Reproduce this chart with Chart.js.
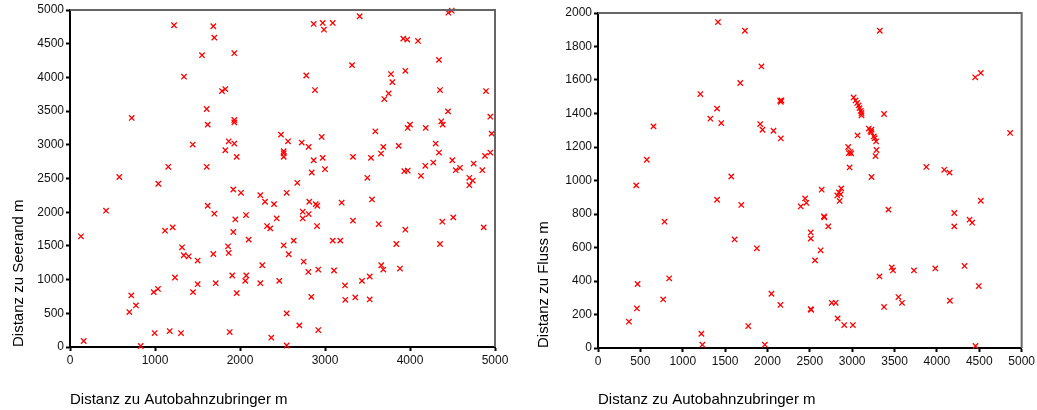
<!DOCTYPE html>
<html>
<head>
<meta charset="utf-8">
<script src="https://cdn.jsdelivr.net/npm/chart.js@4"></script>
<style>
  html, body { margin: 0; background: #fff; }
  .box { position: absolute; top: 0; height: 410px; }
  #left { left: 0; width: 518px; }
  #right { left: 520px; width: 517px; }
</style>
</head>
<body>
<div class="box" id="left"><canvas id="chart-see"></canvas></div>
<div class="box" id="right"><canvas id="chart-fluss"></canvas></div>
<script>
// Zwei Streudiagramme: Distanz zum Autobahnzubringer gegen Seerand bzw. Fluss (Meter).

const autobahnSee = [
  1224, 1686, 1698, 1553, 1933, 1341, 1788, 1827, 1608, 726, 1620, 1933, 1933, 2482, 2565, 1444,
  1867, 1933, 1827, 1961, 2514, 2514, 2514, 1156, 1608, 580, 2867, 2973, 3091, 2988, 3408, 4451,
  4491, 3921, 3968, 4094, 4341, 3318, 2780, 3776, 3945, 3792, 2882, 3749, 3698, 4353, 4894, 4447,
  4945, 4368, 4385, 4000, 3973, 4185, 3592, 2961, 4961, 2726, 2808, 3686, 3867, 4302, 3659, 4341,
  4945, 4882, 2867, 2973, 3329, 3541, 4274, 4498, 4180, 2844, 3000, 3933, 3973, 4129, 4538, 4588,
  4749, 4851, 3498, 4698, 4738, 4698, 1039, 424, 129, 161, 1118, 1208, 1318, 1338, 1396, 1502,
  1235, 1035, 985, 721, 776, 698, 832, 996, 1173, 1306, 1447, 1502, 1620, 1698, 1921, 2012,
  1921, 1945, 2071, 1859, 1867, 1686, 1909, 1714, 1961, 2062, 2074, 2102, 1879, 2239, 2294, 2400,
  2432, 2318, 2356, 2514, 2573, 2262, 2239, 2462, 2549, 2549, 2368, 2549, 2674, 2815, 2891, 2909,
  3196, 3553, 2738, 2808, 2738, 2906, 3329, 3632, 3945, 4380, 4509, 4867, 2632, 3091, 3180, 3839,
  4353, 2749, 2804, 2921, 3106, 3662, 3686, 3882, 3235, 3435, 3526, 2839, 3239, 3356, 3526, 2698,
  2921
];
const seerand = [
  4774, 4759, 4590, 4330, 4359, 4010, 3797, 3827, 3531, 3398, 3299, 3368, 3333, 3151, 3052, 3003,
  3052, 3018, 2919, 2821, 2904, 2874, 2821, 2673, 2673, 2522, 4793, 4808, 4808, 4708, 4907, 4960,
  4990, 4575, 4561, 4541, 4260, 4182, 4028, 4049, 4098, 3930, 3812, 3762, 3679, 3812, 3797, 3496,
  3417, 3348, 3299, 3299, 3250, 3250, 3200, 3117, 3166, 3033, 2969, 2969, 2984, 3018, 2870, 2885,
  2885, 2836, 2771, 2806, 2821, 2806, 2737, 2771, 2688, 2589, 2638, 2608, 2618, 2540, 2623, 2658,
  2722, 2623, 2510, 2510, 2470, 2401, 2422, 2022, 1642, 89, 1726, 1775, 1479, 1361, 1346, 1283,
  1031, 862, 814, 765, 617, 518, 15, 207, 237, 207, 814, 932, 2096, 1978, 2337, 2288,
  1706, 1893, 1957, 1494, 1395, 1380, 1061, 947, 799, 981, 1061, 1593, 222, 2253, 2155, 2120,
  1908, 1794, 1760, 1509, 1376, 1213, 947, 981, 2288, 499, 138, 22, 2436, 2155, 2120, 2096,
  2141, 2189, 2007, 1972, 1908, 1794, 1874, 1824, 1741, 1859, 1923, 1775, 1578, 1578, 1578, 1528,
  1528, 1268, 1114, 1149, 1135, 1213, 1149, 1164, 913, 981, 1046, 744, 700, 735, 706, 321,
  251
];

const autobahnFluss = [
  1416, 1734, 1929, 1679, 1208, 1405, 1326, 1455, 655, 1914, 1941, 2071, 2150, 2165, 2158, 2158,
  576, 1573, 3326, 4452, 4518, 3017, 3040, 3059, 3076, 3087, 3102, 3110, 3110, 3376, 3063, 3196,
  3216, 3224, 3228, 3255, 3266, 3282, 2953, 2976, 2961, 2988, 3287, 3275, 2969, 3875, 4087, 4149,
  4864, 3228, 451, 1405, 1691, 785, 1612, 1875, 840, 467, 769, 459, 365, 2047, 2153, 1773,
  1220, 1232, 1969, 4518, 2640, 2871, 2844, 2864, 2824, 2852, 2444, 2459, 2393, 3428, 4205, 4385,
  4416, 4205, 2667, 2671, 2718, 2511, 2511, 2628, 2561, 3467, 3482, 3729, 3981, 4326, 3322, 4494,
  2511, 2515, 2758, 2805, 2828, 2906, 3008, 3376, 3546, 3588, 4153, 4455
];
const fluss = [
  1946, 1894, 1681, 1582, 1516, 1429, 1369, 1343, 1323, 1337, 1303, 1297, 1476, 1478, 1470, 1251,
  1124, 1024, 1894, 1616, 1642, 1496, 1478, 1463, 1448, 1432, 1416, 1403, 1389, 1397, 1269, 1310,
  1296, 1288, 1304, 1263, 1253, 1233, 1200, 1170, 1164, 1162, 1182, 1146, 1078, 1081, 1064, 1047,
  1284, 1021, 971, 885, 854, 754, 648, 595, 416, 382, 290, 236, 157, 324, 257, 131,
  85, 20, 20, 879, 945, 953, 929, 917, 911, 878, 893, 867, 845, 826, 806, 766,
  748, 726, 786, 780, 726, 690, 653, 583, 523, 481, 463, 463, 475, 490, 427, 370,
  232, 228, 270, 270, 177, 137, 137, 245, 304, 270, 282, 12
];

const X_TITLE = "Distanz zu Autobahnzubringer m";
const FONT = "'Liberation Sans', Arial, sans-serif";

Chart.defaults.font.family = FONT;
Chart.defaults.color = "#000";

// graue Rahmenlinie oben und rechts
const frame = {
  id: "frame",
  afterDatasetsDraw(chart) {
    const { ctx, chartArea: a } = chart;
    ctx.save();
    ctx.strokeStyle = "#666";
    ctx.lineWidth = 2;
    ctx.beginPath();
    ctx.moveTo(a.left, a.top);
    ctx.lineTo(a.right, a.top);
    ctx.lineTo(a.right, a.bottom);
    ctx.stroke();
    ctx.restore();
  },
};

// Zahlen ohne Tausendertrennzeichen
const plain = (v) => String(v);

function axis(extra) {
  return Object.assign({
    type: "linear",
    grid: { drawOnChartArea: false, color: "#000", tickLength: 4, tickWidth: 2 },
    border: { color: "#000", width: 2 },
  }, extra);
}

function scatter(id, xs, ys, o) {
  new Chart(document.getElementById(id), {
    type: "scatter",
    data: {
      datasets: [{
        data: xs.map((x, i) => ({ x, y: ys[i] })),
        pointStyle: "crossRot",
        pointRadius: 3.8,
        borderColor: "#ff0000",
        borderWidth: 1.3,
        clip: false,
      }],
    },
    options: {
      animation: false,
      maintainAspectRatio: false,
      layout: { padding: { top: o.top, right: o.right, left: 0, bottom: 0 } },
      plugins: { legend: { display: false }, tooltip: { enabled: false } },
      scales: {
        x: axis({
          min: 0, max: 5000,
          ticks: { color: "#111", font: { size: 12 }, padding: 2, autoSkip: false, maxRotation: 0, stepSize: o.xStep, callback: plain },
          title: { display: true, text: X_TITLE, align: "start", color: "#000", font: { size: 15 }, padding: { top: 0, bottom: 1 } },
          afterFit: (s) => { s.height = o.xHeight; },
        }),
        y: axis({
          min: 0, max: o.yMax,
          ticks: { color: "#111", font: { size: 12 }, padding: 2, autoSkip: false, stepSize: o.yStep, callback: plain },
          title: { display: true, text: o.yTitle, align: "start", color: "#000", font: { size: 15 }, padding: { top: o.titleGap, bottom: 0 } },
          afterFit: (s) => { s.width = o.yWidth; },
        }),
      },
    },
    plugins: [frame],
  });
}

scatter("chart-see", autobahnSee, seerand, {
  yTitle: "Distanz zu Seerand m", yMax: 5000, yStep: 500, xStep: 1000,
  top: 10, right: 23, xHeight: 63, yWidth: 70, titleGap: 10,
});

scatter("chart-fluss", autobahnFluss, fluss, {
  yTitle: "Distanz zu Fluss m", yMax: 2000, yStep: 200, xStep: 500,
  top: 13, right: 12, xHeight: 62, yWidth: 78, titleGap: 15,
});
</script>
</body>
</html>
